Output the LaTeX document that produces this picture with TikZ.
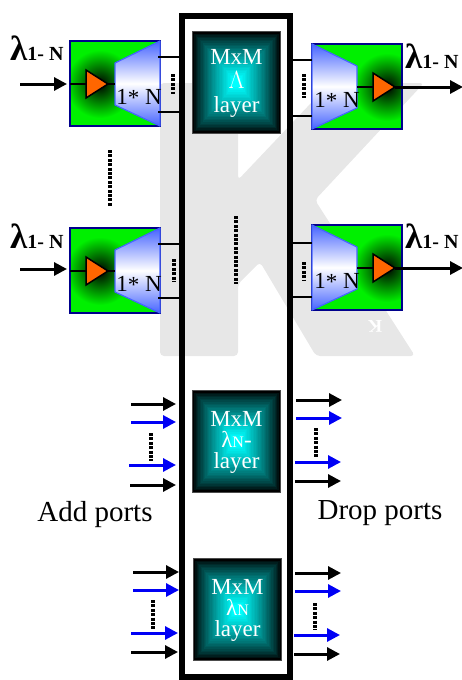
\documentclass[tikz,border=0pt]{standalone}
\usepackage{fontspec}
\setmainfont{Liberation Serif}
\usetikzlibrary{arrows.meta,calc}
\definecolor{frameblue}{RGB}{0,0,140}
\definecolor{trapblue}{RGB}{70,100,255}
\definecolor{wmgray}{RGB}{231,231,231}
\definecolor{orangetri}{RGB}{255,102,0}
\definecolor{arrowblue}{RGB}{0,0,245}
\definecolor{pgreen}{RGB}{0,240,0}
\definecolor{pcyan}{RGB}{0,255,255}
\definecolor{pblack}{RGB}{0,0,0}
\tikzset{
  x=1pt,y=-1pt,
  portline/.style={line width=1.8pt,black},
  inarrow/.style={line width=3pt,-{Triangle[length=13pt,width=13pt]},black},
  bluearrow/.style={line width=3pt,-{Triangle[length=13pt,width=13pt]},arrowblue},
  dotsv/.style={line width=4.4pt,black,dash pattern=on 3pt off 1.4pt},
  lamlabel/.style={inner sep=0pt,anchor=west},
  layertext/.style={text=white,align=center,inner sep=0pt,font=\fontsize{23}{26}\selectfont},
  caption/.style={inner sep=0pt,font=\fontsize{29}{32}\selectfont},
  onestar/.style={inner sep=0pt,font=\fontsize{23}{26}\selectfont},
}
% name, green left x, centre y, trapezoid narrow x, wide x, triangle base x, text x
\newcommand{\wdmmodule}[7]{%
  \begin{scope}
    \clip (#2,#3-43) rectangle (#2+90,#3+42);
    \fill[pgreen] (#2,#3-43) rectangle (#2+90,#3+42);
    \shade[inner color=black,outer color=pgreen] (#6+14,#3) circle[radius=34];
  \end{scope}
  \draw[frameblue,line width=1.3pt] (#2,#3-43) rectangle (#2+90,#3+42);
  \coordinate (#1w) at (#2,#3);
  \coordinate (#1e) at (#2+90,#3);
  \coordinate (#1n) at (#4,#3);
  \coordinate (#1tb) at (#6,#3);
  \coordinate (#1tt) at (#6+22,#3);
  \shade[top color=trapblue,bottom color=trapblue,middle color=white]
    (#5,#3-43) -- (#4,#3-21) -- (#4,#3+21) -- (#5,#3+42) -- cycle;
  \draw[trapblue,line width=1.2pt,line join=round]
    (#5,#3-43) -- (#4,#3-21) -- (#4,#3+21) -- (#5,#3+42) -- cycle;
  \fill[orangetri,draw=black,line width=1.5pt,line join=miter]
    (#6,#3-14) -- (#6+22,#3) -- (#6,#3+14) -- cycle;
  \node[onestar] (#1lab) at (#7,#3+13) {1\raisebox{-1pt}{*} N};
}
\newcommand{\teal}[5]{% name, x0, y0, x1, y1
  \fill[black!70,line width=0pt] (#2-0.7,#3-0.7) rectangle (#4+0.7,#5+0.7);
  \foreach \i in {0,...,31}{
    \pgfmathsetmacro{\pc}{min(100,100*pow(\i/29,0.8))}
    \pgfmathsetmacro{\fx}{\i/32*(#4-#2)/2}
    \pgfmathsetmacro{\fy}{\i/32*(#5-#3)/2}
    \fill[pcyan!\pc!pblack] (#2+\fx,#3+\fy) rectangle (#4-\fx,#5-\fy);
  }
  \coordinate (#1) at ({(#2+#4)/2},{(#3+#5)/2});
}
\begin{document}
\begin{tikzpicture}
\useasboundingbox (0,0) rectangle (462,680);
% watermark
\fill[wmgray,rounded corners=4pt]
  (160,83) -- (238,83) -- (238,180) -- (330,83) -- (424,83) -- (315,200)
  -- (415,356) -- (316,356) -- (260,262) -- (238,284) -- (238,356) -- (160,356) -- cycle;
% backbone frame
\node[draw=black,line width=6pt,minimum width=108pt,minimum height=661pt,inner sep=0pt] (frame) at (236,346) {};
% layer boxes
\teal{l1}{193}{32}{280}{133}
\teal{l2}{193}{391}{280}{492}
\teal{l3}{194}{559}{281}{660}
\node[layertext] (t1) at ($(l1)+(0,1)$) {MxM\\[-2pt]$\Lambda$\\[-2pt]layer};
\node[layertext] (t2) at ($(l2)+(0,1)$) {MxM\\[-5pt]λ{\fontsize{16}{16}\selectfont N}-\\[-5pt]layer};
\node[layertext] (t3) at ($(l3)+(0,1)$) {MxM\\[-5pt]λ{\fontsize{16}{16}\selectfont N}\\[-5pt]layer};
% modules
\wdmmodule{a}{70}{84}{115}{160}{86}{139}
\wdmmodule{b}{70}{271}{115}{160}{86}{139}
\wdmmodule{c}{312}{87}{357}{312}{373}{337}
\wdmmodule{d}{312}{268}{357}{312}{373}{337}
% input / output arrows
\coordinate (ain) at (20,84);
\coordinate (bin) at (20,269);
\coordinate (cout) at (463,87);
\coordinate (dout) at (463,268);
\draw[inarrow] (ain) -- (67,84);
\draw[inarrow] (bin) -- (67,269);
\draw[inarrow] (ctt) -- (cout);
\draw[inarrow] (dtt) -- (dout);
\foreach \m in {a,b}{
  \draw[line width=1.3pt] (\m w) -- (\m tb);
  \draw[line width=1.3pt] (\m tt) -- (\m n);
}
\foreach \m in {c,d}{
  \draw[line width=1.3pt] (\m n) -- (\m tb);
}
% port stubs
\foreach \y in {57,112,244,298}{ \draw[portline] (158,\y) -- (frame.west |- 0,\y); }
\foreach \y in {60,116,243,297}{ \draw[portline] (frame.east |- 0,\y) -- (312,\y); }
% dots
\draw[dotsv] (173,74) -- (173,94);
\draw[dotsv] (174,259) -- (174,282);
\draw[dotsv] (304,74) -- (304,98);
\draw[dotsv] (304,262) -- (304,280);
\draw[dotsv] (110,150) -- (110,207);
\draw[dotsv] (236,216) -- (236,284);
\draw[dotsv] (151,433) -- (151,461);
\draw[dotsv] (316,428) -- (316,457);
\draw[dotsv] (153,600) -- (153,629);
\draw[dotsv] (315,603) -- (315,630);
% add / drop arrows
\draw[inarrow] (131,404) -- (176,404);
\draw[bluearrow] (131,422) -- (176,422);
\draw[bluearrow] (129,465) -- (176,465);
\draw[inarrow] (130,485) -- (176,485);
\draw[inarrow] (296,400) -- (342,400);
\draw[bluearrow] (296,418) -- (342,418);
\draw[bluearrow] (295,462) -- (341,462);
\draw[inarrow] (295,481) -- (341,481);
\draw[inarrow] (133,572) -- (179,572);
\draw[bluearrow] (133,590) -- (179,590);
\draw[bluearrow] (131,633) -- (178,633);
\draw[inarrow] (131,652) -- (178,652);
\draw[inarrow] (295,573) -- (341,573);
\draw[bluearrow] (295,591) -- (341,591);
\draw[bluearrow] (294,635) -- (340,635);
\draw[inarrow] (294,654) -- (340,654);
% lambda labels
\foreach \n/\px/\py in {la/10/48,lb/10/236,lc/405/56,ld/405/236}{
  \node[lamlabel] (\n) at (\px,\py) {\bfseries\fontsize{35}{35}\selectfont λ\fontsize{20}{20}\selectfont 1- N};
}
% captions
\node[caption] (add) at (95,515) {Add ports};
\node[caption] (drop) at (380,513) {Drop ports};
% small mirrored K
\node[text=white,inner sep=0pt,rotate=180,font=\bfseries\fontsize{18}{18}\selectfont] (wk) at (375,326) {K};
\end{tikzpicture}
\end{document}
